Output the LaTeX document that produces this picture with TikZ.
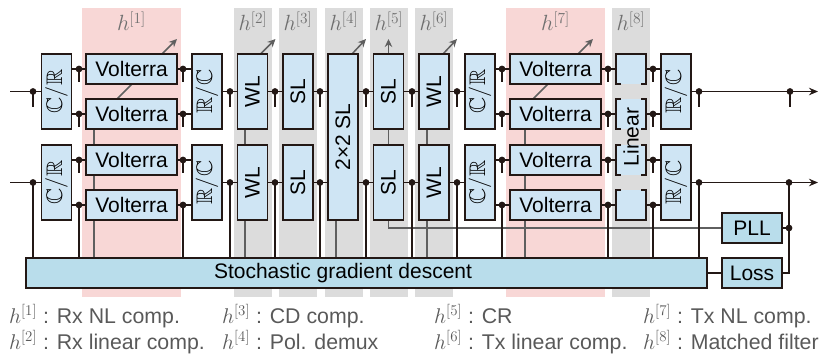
\RequirePackage{fix-cm}
\documentclass[tikz,border=0pt]{standalone}
\usepackage{amssymb}
\usepackage[no-math]{fontspec}
\setmainfont{Liberation Sans}
\usepackage{graphicx}
\usetikzlibrary{arrows.meta}
\pgfdeclarelayer{bg}
\pgfdeclarelayer{mid}
\pgfsetlayers{bg,mid,main}
\definecolor{bfill}{HTML}{CFE5F4}
\definecolor{sfill}{HTML}{B9DDEB}
\definecolor{bline}{HTML}{231815}
\definecolor{pinkb}{HTML}{F8D7D6}
\definecolor{grayb}{HTML}{DCDCDC}
\definecolor{gline}{HTML}{5F5F5F}
\definecolor{ltxt}{HTML}{595959}
\definecolor{htxt}{HTML}{707070}
\newcommand\bxfont{\fontsize{21}{24}\selectfont}
\newcommand\lgfont{\fontsize{21.3}{25}\selectfont}
\newcommand\cxr[1]{\rotatebox{90}{\fontsize{22.5}{25}\selectfont$#1$}}
\newcommand\jst[4]{\coordinate (#1) at (#2,#3); \draw[wire] (#1) -- ++(0,#4); \fill[bline] (#1) circle (3.4pt);}
\newcommand\jlg[3]{\coordinate (#1) at (#2,#3); \draw[wire] (#1) -- (#1 |- sgd.north); \fill[bline] (#1) circle (3.4pt);}
\tikzset{
  x=1pt, y=-1pt,
  box/.style={draw=bline, fill=bfill, line width=1.8pt, inner sep=0pt, outer sep=0pt, font=\bxfont, text=black},
  sbox/.style={box, fill=sfill},
  tall/.style={box, minimum width=30pt, minimum height=75pt},
  vbox/.style={box, minimum width=91pt, minimum height=30pt},
  lbox/.style={fill=bfill, draw=none, inner sep=0pt, outer sep=0pt, minimum width=30pt, minimum height=30pt},
  wire/.style={draw=bline, line width=1.8pt},
  gwire/.style={draw=gline, line width=1.5pt},
  garrow/.style={gwire, -{Stealth[length=8pt,width=7.5pt]}},
  oarrow/.style={wire, -{Stealth[length=9pt,width=7.5pt]}},
  hlab/.style={font=\fontsize{22}{26}\selectfont, text=htxt, anchor=base, inner sep=0pt},
  leg/.style={font=\lgfont, text=ltxt, anchor=base west, inner sep=0pt},
  txt/.style={font=\bxfont, text=black, inner sep=0pt}
}
\begin{document}
\begin{tikzpicture}
\useasboundingbox (0,0) rectangle (822,361);
% bands
\begin{pgfonlayer}{bg}
\foreach \xa/\xb/\c/\n in {82/181/pinkb/1, 234/272/grayb/2, 279/317/grayb/3, 325/363/grayb/4, 370/408/grayb/5, 415/453/grayb/6, 506/605/pinkb/7, 612/650/grayb/8}{
  \fill[\c] (\xa,8) rectangle (\xb,297);
  \node[hlab] (hl\n) at ({(\xa+\xb)/2},31) {$h^{[\n]}$};
}
\end{pgfonlayer}
% boxes
\node[tall] (cr1a) at (56.5,91.5) {\cxr{\mathbb{C}/\mathbb{R}}};
\node[tall] (cr1b) at (56.5,182.5) {\cxr{\mathbb{C}/\mathbb{R}}};
\node[vbox] (v1a) at (131.5,69) {Volterra};
\node[vbox] (v1b) at (131.5,114) {Volterra};
\node[vbox] (v1c) at (131.5,160) {Volterra};
\node[vbox] (v1d) at (131.5,205) {Volterra};
\node[tall] (rc1a) at (207,91.5) {\cxr{\mathbb{R}/\mathbb{C}}};
\node[tall] (rc1b) at (207,182.5) {\cxr{\mathbb{R}/\mathbb{C}}};
\node[tall] (wl2a) at (252.5,91.5) {\rotatebox{90}{WL}};
\node[tall] (wl2b) at (252.5,182.5) {\rotatebox{90}{WL}};
\node[tall] (sl3a) at (298,91.5) {\rotatebox{90}{SL}};
\node[tall] (sl3b) at (298,182.5) {\rotatebox{90}{SL}};
\node[box, minimum width=30pt, minimum height=166pt] (sl4) at (343,137) {\rotatebox{90}{2×2 SL}};
\node[tall] (sl5a) at (388.5,91.5) {\rotatebox{90}{SL}};
\node[tall] (sl5b) at (388.5,182.5) {\rotatebox{90}{SL}};
\node[tall] (wl6a) at (434,91.5) {\rotatebox{90}{WL}};
\node[tall] (wl6b) at (434,182.5) {\rotatebox{90}{WL}};
\node[tall] (cr7a) at (480,91.5) {\cxr{\mathbb{C}/\mathbb{R}}};
\node[tall] (cr7b) at (480,182.5) {\cxr{\mathbb{C}/\mathbb{R}}};
\node[vbox] (v7a) at (555.5,69) {Volterra};
\node[vbox] (v7b) at (555.5,114) {Volterra};
\node[vbox] (v7c) at (555.5,160) {Volterra};
\node[vbox] (v7d) at (555.5,205) {Volterra};
\node[lbox] (l8a) at (631,69) {};
\node[lbox] (l8b) at (631,114) {};
\node[lbox] (l8c) at (631,160) {};
\node[lbox] (l8d) at (631,205) {};
\draw[wire] ([xshift=5pt]l8a.south west) -- (l8a.south west) -- (l8a.north west) -- (l8a.north east) -- (l8a.south east) -- ([xshift=-5pt]l8a.south east);
\foreach \b in {l8b,l8c}{
  \draw[wire] ([xshift=5pt]\b.north west) -- (\b.north west) -- (\b.south west) -- ([xshift=5pt]\b.south west);
  \draw[wire] ([xshift=-5pt]\b.north east) -- (\b.north east) -- (\b.south east) -- ([xshift=-5pt]\b.south east);
}
\draw[wire] ([xshift=5pt]l8d.north west) -- (l8d.north west) -- (l8d.south west) -- (l8d.south east) -- (l8d.north east) -- ([xshift=-5pt]l8d.north east);
\node[txt] (lin) at (631,137) {\rotatebox{90}{Linear}};
\node[tall] (rc8a) at (676,91.5) {\cxr{\mathbb{R}/\mathbb{C}}};
\node[tall] (rc8b) at (676,182.5) {\cxr{\mathbb{R}/\mathbb{C}}};
\node[sbox, minimum width=681pt, minimum height=30pt] (sgd) at (366.5,273) {};
\node[txt] (sgdt) at (343,273) {Stochastic gradient descent};
\node[sbox, minimum width=60pt, minimum height=30pt] (pll) at (752,228) {PLL};
\node[sbox, minimum width=60pt, minimum height=30pt] (loss) at (752,273) {Loss};
% gray parameter lines and arrows
\begin{pgfonlayer}{mid}
\draw[garrow] ([xshift=31pt]v1b.north west) -- ++(60,-60);
\draw[garrow] ([xshift=23pt]v7b.north west) -- ++(60,-60);
\draw[garrow] ([xshift=-7pt]wl2a.north east) -- ++(15,-15);
\draw[garrow] ([xshift=-6pt]sl4.north east) -- ++(14,-15);
\draw[garrow] (sl5a.north) -- ++(0,-15);
\draw[garrow] ([xshift=-6pt]wl6a.north east) -- ++(14,-15);
\coordinate (g1) at ([xshift=8pt]v1d.south west);
\draw[gwire] ([xshift=8pt]v1b.south west) -- ([xshift=8pt]v1c.north west);
\draw[gwire] ([xshift=8pt]v1c.south west) -- ([xshift=8pt]v1d.north west);
\draw[gwire] (g1) -- (g1 |- sgd.north);
\coordinate (g7) at ([xshift=15pt]v7d.south west);
\draw[gwire] ([xshift=15pt]v7b.south west) -- ([xshift=15pt]v7c.north west);
\draw[gwire] ([xshift=15pt]v7c.south west) -- ([xshift=15pt]v7d.north west);
\draw[gwire] (g7) -- (g7 |- sgd.north);
\coordinate (g2) at ([xshift=7.5pt]wl2b.south west);
\draw[gwire] ([xshift=7.5pt]wl2a.south west) -- ([xshift=7.5pt]wl2b.north west);
\draw[gwire] (g2) -- (g2 |- sgd.north);
\coordinate (g4) at ([xshift=8pt]sl4.south west);
\draw[gwire] (g4) -- (g4 |- sgd.north);
\draw[gwire] (sl5a.south) -- (sl5b.north);
\draw[gwire] (sl5b.south) |- (pll.west);
\coordinate (g6) at ([xshift=8pt]wl6b.south west);
\draw[gwire] ([xshift=8pt]wl6a.south west) -- ([xshift=8pt]wl6b.north west);
\draw[gwire] (g6) -- (g6 |- sgd.north);
\end{pgfonlayer}
% wires
\coordinate (in1) at (10,91.5);
\coordinate (in2) at (10,182.5);
\draw[wire] (in1) -- (cr1a.west);
\draw[wire] (in2) -- (cr1b.west);
\jst{j0a}{33}{91.5}{15}
\jlg{j0b}{33}{182.5}
\foreach \v in {v1a,v1b,v1c,v1d}{\draw[wire] (cr1a.east |- \v) -- (\v.west); \draw[wire] (\v.east) -- (rc1a.west |- \v);}
\jst{j1a}{79}{69}{13} \jst{j1b}{79}{114}{13} \jst{j1c}{79}{160}{13} \jlg{j1d}{79}{205}
\jst{k1a}{183}{69}{13} \jst{k1b}{183}{114}{13} \jst{k1c}{183}{160}{13} \jlg{k1d}{183}{205}
\foreach \r in {a,b}{
  \draw[wire] (rc1\r.east) -- (wl2\r.west) (wl2\r.east) -- (sl3\r.west) (sl3\r.east) -- (sl4.west |- sl3\r) (sl4.east |- sl5\r) -- (sl5\r.west) (sl5\r.east) -- (wl6\r.west) (wl6\r.east) -- (cr7\r.west);
}
\foreach \x [count=\i] in {230,275,320,366,412,457}{
  \jst{ra\i}{\x}{91.5}{15}
  \jlg{rb\i}{\x}{182.5}
}
\foreach \v/\l in {v7a/l8a,v7b/l8b,v7c/l8c,v7d/l8d}{
  \draw[wire] (cr7a.east |- \v) -- (\v.west);
  \draw[wire] (\v.east) -- (\l.west);
  \draw[wire] (\l.east) -- (rc8a.west |- \l);
}
\jst{j7a}{502}{69}{13} \jst{j7b}{502}{114}{13} \jst{j7c}{502}{160}{13} \jlg{j7d}{502}{205}
\jst{k7a}{608}{69}{13} \jst{k7b}{608}{114}{13} \jst{k7c}{608}{160}{13} \jlg{k7d}{608}{205}
\jst{m8a}{653}{69}{13} \jst{m8b}{653}{114}{13} \jst{m8c}{653}{160}{13} \jlg{m8d}{653}{205}
% outputs
\coordinate (out1) at (818,91.5);
\coordinate (out2) at (818,182.5);
\draw[oarrow] (rc8a.east) -- (out1);
\draw[oarrow] (rc8b.east) -- (out2);
\jst{oa1}{699}{91.5}{15}
\jst{oa2}{790}{91.5}{15}
\jlg{ob1}{699}{182.5}
\coordinate (ob2) at (789,182.5);
\coordinate (pj) at (789,228);
\draw[wire] (ob2) |- (loss.east);
\draw[wire] (pll.east) -- (pj);
\fill[bline] (ob2) circle (3.4pt);
\fill[bline] (pj) circle (3.4pt);
\draw[wire] (sgd.east) -- (loss.west);
% legend
\node[leg] (lg1) at (9,323) {$h^{[1]}$ : Rx NL comp.};
\node[leg] (lg3) at (222,323) {$h^{[3]}$ : CD comp.};
\node[leg] (lg5) at (434,323) {$h^{[5]}$ : CR};
\node[leg] (lg7) at (643,323) {$h^{[7]}$ : Tx NL comp.};
\node[leg] (lg2) at (9,349) {$h^{[2]}$ : Rx linear comp.};
\node[leg] (lg4) at (222,349) {$h^{[4]}$ : Pol. demux};
\node[leg] (lg6) at (434,349) {$h^{[6]}$ : Tx linear comp.};
\node[leg] (lg8) at (643,349) {$h^{[8]}$ : Matched filter};
\end{tikzpicture}
\end{document}
